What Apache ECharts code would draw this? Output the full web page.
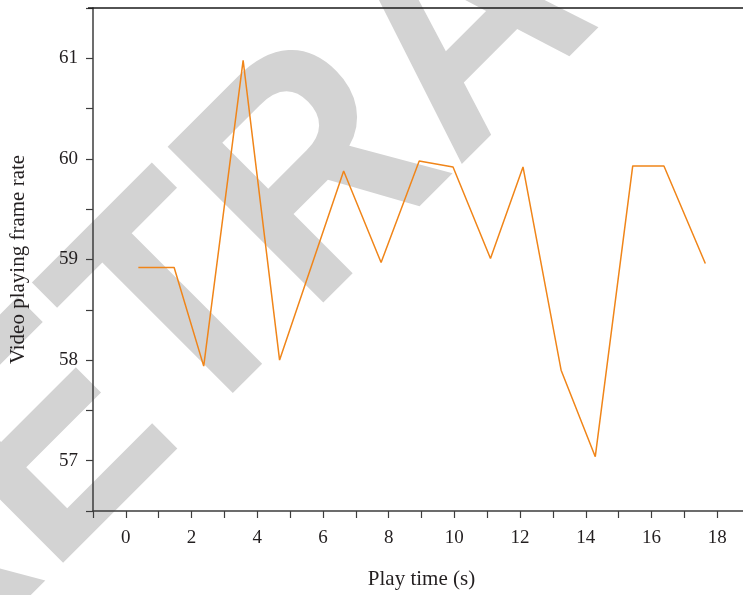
<!DOCTYPE html>
<html>
<head>
<meta charset="utf-8">
<style>
  html, body { margin: 0; padding: 0; background: #fff; }
  #chart { width: 743px; height: 595px; }
</style>
<script src="https://cdn.jsdelivr.net/npm/echarts@6/dist/echarts.min.js"></script>
</head>
<body>
<div id="chart"></div>
<script>
// play time (s) and frame rate
var playTime = [0.38, 1.47, 2.37, 3.57, 4.68, 6.63, 7.77, 8.93, 9.96, 11.10, 12.09, 13.25, 14.29, 15.43, 16.38, 17.64];
var frameRate = [58.92, 58.92, 57.94, 60.98, 58.00, 59.88, 58.97, 59.98, 59.92, 59.01, 59.92, 57.90, 57.04, 59.93, 59.93, 58.96];

var serif = '"Liberation Serif", "DejaVu Serif", serif';
var axisColor = '#3d3d3d';

var myChart = echarts.init(document.getElementById('chart'));
myChart.setOption({
  animation: false,
  backgroundColor: '#fff',
  grid: {
    left: 93,
    right: -7,
    top: 8,
    bottom: 84,
    containLabel: false,
    outerBoundsMode: 'none'
  },
  graphic: [
    {
      // grey watermark behind the plot
      type: 'text',
      z: -10,
      x: -160,
      y: 661,
      rotation: Math.PI / 4,
      scaleX: 0.9,
      silent: true,
      style: {
        text: 'RETRACTED ARTICLE',
        font: 'bold 320px "Liberation Sans", Arial, sans-serif',
        fill: '#d3d3d3',
        align: 'left',
        verticalAlign: 'middle'
      }
    },
    {
      type: 'line',
      z: 10,
      shape: {x1: 88, y1: 8, x2: 743, y2: 8},
      style: {stroke: '#1a1a1a', lineWidth: 1.5}
    }
  ],
  xAxis: {
    type: 'value',
    min: -1,
    max: 19,
    interval: 1,
    name: 'Play time (s)',
    nameLocation: 'middle',
    nameGap: 58,
    nameTextStyle: {fontFamily: serif, fontSize: 21, color: '#231f20'},
    axisLine: {onZero: false, lineStyle: {color: axisColor, width: 1.5}},
    axisTick: {inside: false, length: 7, lineStyle: {color: axisColor, width: 1.2}},
    axisLabel: {
      fontFamily: serif,
      fontSize: 19,
      color: '#231f20',
      margin: 18,
      formatter: function (v) { return v % 2 === 0 ? String(v) : ''; }
    },
    splitLine: {show: false}
  },
  yAxis: {
    type: 'value',
    min: 56.5,
    max: 61.5,
    interval: 0.5,
    name: 'Video playing frame rate',
    nameLocation: 'middle',
    nameGap: 64,
    nameRotate: 90,
    nameTextStyle: {fontFamily: serif, fontSize: 21, color: '#231f20'},
    axisLine: {show: true, onZero: false, lineStyle: {color: axisColor, width: 1.5}},
    axisTick: {show: true, inside: false, length: 7, lineStyle: {color: axisColor, width: 1.2}},
    axisLabel: {
      fontFamily: serif,
      fontSize: 19,
      color: '#231f20',
      margin: 15,
      formatter: function (v) { return Math.abs(v - Math.round(v)) < 1e-6 ? String(Math.round(v)) : ''; }
    },
    splitLine: {show: false}
  },
  series: [{
    type: 'line',
    symbol: 'none',
    data: playTime.map(function (t, i) { return [t, frameRate[i]]; }),
    lineStyle: {color: '#f08519', width: 1.5},
    z: 5
  }]
});
</script>
</body>
</html>
